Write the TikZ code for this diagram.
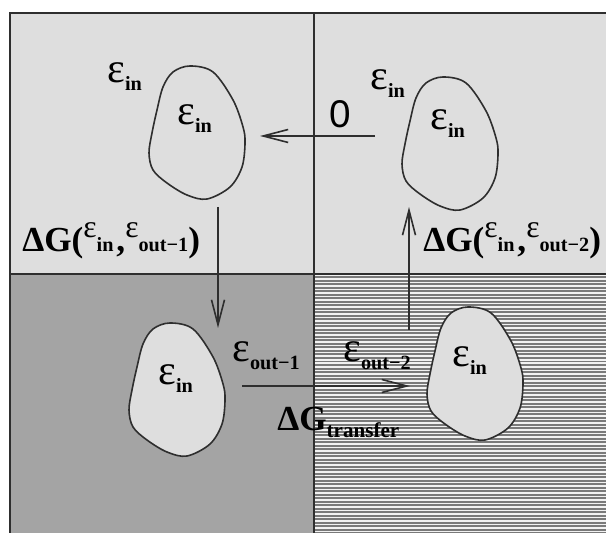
\documentclass[tikz,border=0pt]{standalone}
\usepackage{fontspec}
\setmainfont{Liberation Serif}
\newfontfamily\zerofont{Liberation Sans}
\usepackage{tikz}
\usetikzlibrary{arrows.meta,positioning}
\definecolor{paneLight}{HTML}{DEDEDE}
\definecolor{paneDark}{HTML}{A4A4A4}
\definecolor{stripeDark}{HTML}{7A7A7A}
\definecolor{stripeLight}{HTML}{F2F2F2}
\definecolor{inkLine}{HTML}{2E2E2E}

% energy symbols
\newcommand{\epsbig}[1]{{\fontsize{24}{26}\selectfont ε}\raisebox{-4.5pt}{\fontsize{11.5}{12}\selectfont\bfseries #1}}
\newcommand{\epsup}[1]{\raisebox{8pt}{\fontsize{18}{20}\selectfont ε}{\fontsize{11.5}{12}\selectfont\bfseries #1}}
\newcommand{\bigbf}[1]{{\fontsize{20}{23}\selectfont\bfseries #1}}

\tikzset{
  frameline/.style={draw=inkLine, line width=0.045cm},
  stripe/.style={draw=stripeDark, line width=0.04cm},
  blobline/.style={draw=inkLine, line width=0.032cm, fill=paneLight},
  flow/.style={draw=inkLine, line width=0.032cm, -{Straight Barb[length=0.5cm, width=0.26cm, line width=0.032cm]}},
  lbl/.style={anchor=base west, inner sep=0pt, text=black},
  blob/.pic={
    \path[blobline, x=0.02cm, y=-0.02cm] plot[smooth cycle, tension=0.55] coordinates {
      (41,0) (64,6) (84,34) (94,61) (96,77) (93,101) (81,121) (58,133)
      (38,129) (18,117) (4,104) (0,87) (3,67) (8,44) (14,21) (24,6)};
  }
}

\begin{document}
\begin{tikzpicture}
    \useasboundingbox (0,0) rectangle (12.12,10.66);
    \fill[white] (0,0) rectangle (12.12,10.66);
    \clip (0,0) rectangle (12.12,10.66);

    % Panes
    \fill[paneLight] (0.2,5.18) rectangle (12.4,10.4);
    \fill[paneDark] (0.2,-0.2) rectangle (6.28,5.18);
    \fill[stripeLight] (6.28,-0.2) rectangle (12.4,5.18);
    \foreach \i in {0,...,75}
        \draw[stripe] (6.28,{5.11-0.07*\i}) -- (12.4,{5.11-0.07*\i});

    % Frame and dividers
    \draw[frameline] (0.2,-0.2) rectangle (12.4,10.4);
    \draw[frameline] (6.28,-0.2) -- (6.28,10.4);
    \draw[frameline] (0.2,5.18) -- (12.4,5.18);

    % Regions
    \pic (blobA) at (2.98,9.34) {blob};
    \pic (blobB) at (8.04,9.12) {blob};
    \pic (blobC) at (2.58,4.20) {blob};
    \pic (blobD) at (8.54,4.52) {blob};

    % Labels inside and around the regions
    \node[lbl] (epsA) at (2.14,9.00) {\epsbig{in}};
    \node[lbl] (insA) at (3.54,8.16) {\epsbig{in}};
    \node[lbl] (epsB) at (7.40,8.86) {\epsbig{in}};
    \node[lbl] (insB) at (8.60,8.06) {\epsbig{in}};
    \node[lbl] (insC) at (3.16,2.96) {\epsbig{in}};
    \node[lbl] (insD) at (9.04,3.32) {\epsbig{in}};
    \node[lbl] (outA) at (4.64,3.42) {\epsbig{out−1}};
    \node[lbl] (outB) at (6.86,3.42) {\epsbig{out−2}};

    % Arrows
    \coordinate (zeroS) at (7.50,7.94);
    \coordinate (zeroE) at (5.20,7.94);
    \coordinate (downS) at (4.36,6.52);
    \coordinate (downE) at (4.36,4.10);
    \coordinate (upS) at (8.18,4.06);
    \coordinate (upE) at (8.18,6.52);
    \coordinate (moveS) at (4.84,2.94);
    \coordinate (moveE) at (8.20,2.94);
    \draw[flow] (zeroS) -- (zeroE);
    \draw[flow] (downS) -- (downE);
    \draw[flow] (upS) -- (upE);
    \draw[flow] (moveS) -- (moveE);

    % Free energies
    \node[anchor=base, inner sep=0pt] (zero) at (6.80,8.10) {\zerofont\fontsize{22}{24}\selectfont 0};
    \node[lbl] (dgOne) at (0.44,5.62) {\bigbf{ΔG(}\epsup{in}\,\bigbf{,}\epsup{out−1}\bigbf{)}};
    \node[lbl] (dgTwo) at (8.46,5.62) {\bigbf{ΔG(}\epsup{in}\,\bigbf{,}\epsup{out−2}\bigbf{)}};
    \node[lbl] (dgMove) at (5.54,2.04) {\bigbf{ΔG}\raisebox{-3.5pt}{\fontsize{12}{13}\selectfont\bfseries transfer}};
\end{tikzpicture}
\end{document}
